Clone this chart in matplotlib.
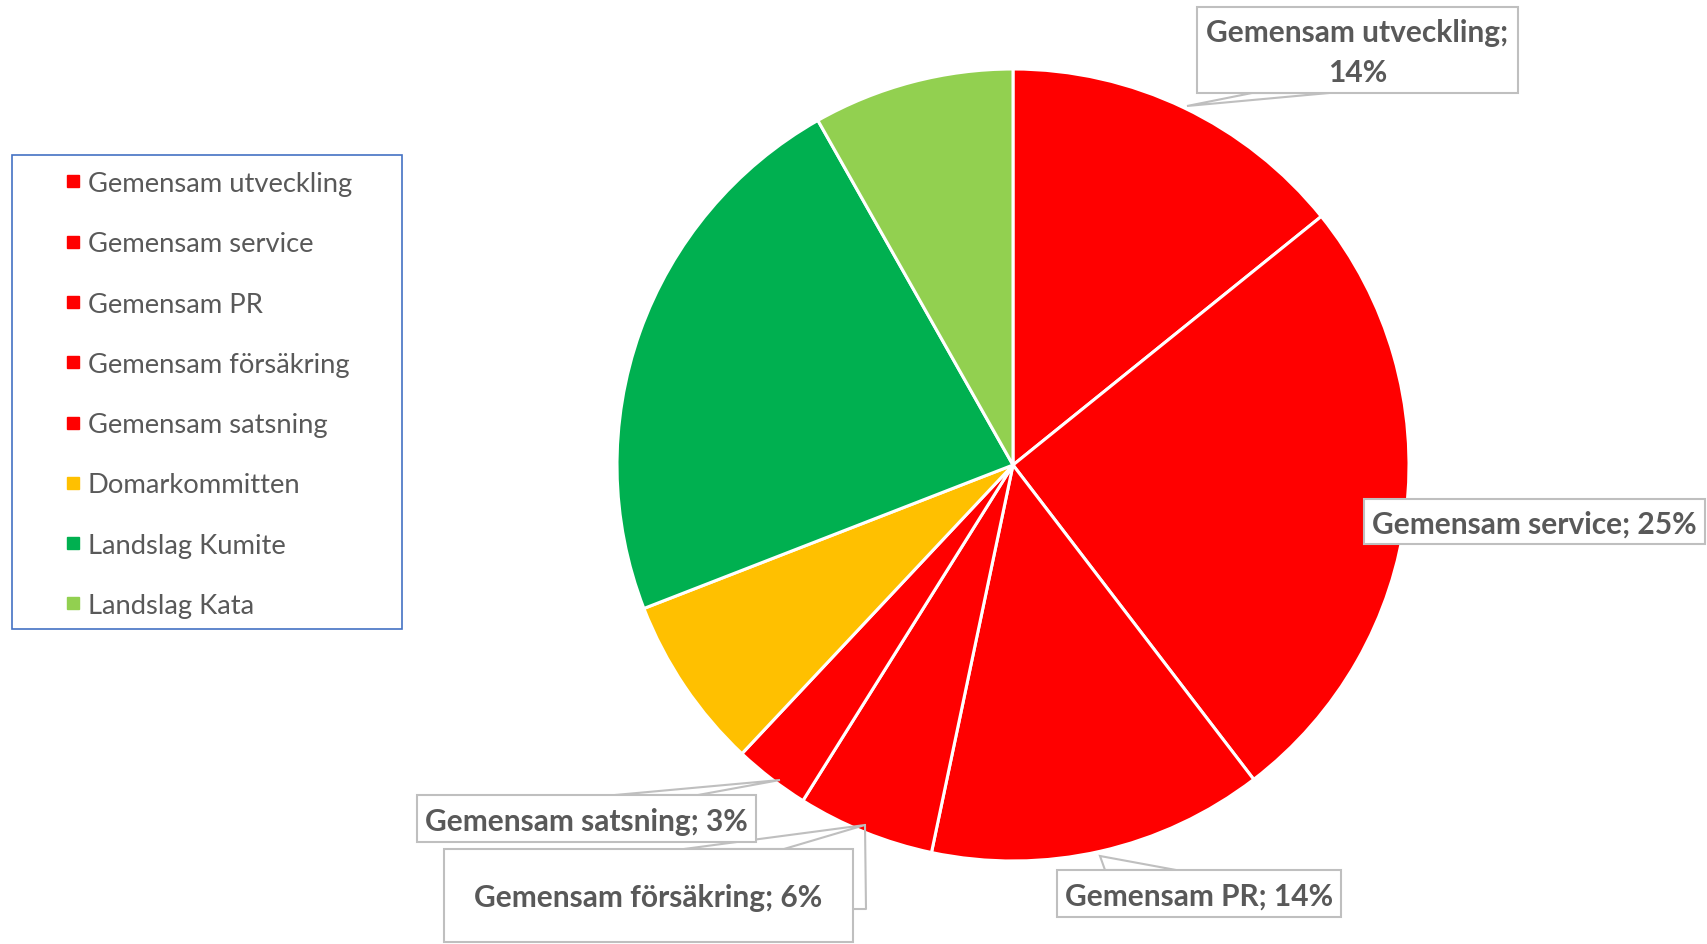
import matplotlib.pyplot as plt
from matplotlib.patches import Rectangle, Polygon
from matplotlib.lines import Line2D

plt.rcParams['font.family'] = ['Lato', 'DejaVu Sans']

# Data (shares, in percent)
categories = ['Gemensam utveckling', 'Gemensam service', 'Gemensam PR',
              'Gemensam försäkring', 'Gemensam satsning', 'Domarkommitten',
              'Landslag Kumite', 'Landslag Kata']
shares = [14.2, 25.4, 13.7, 5.6, 3.1, 7.1, 22.7, 8.2]
colors = ['#FF0000', '#FF0000', '#FF0000', '#FF0000', '#FF0000',
          '#FFC000', '#00B050', '#92D050']
labelled = ['Gemensam utveckling;\n14%', 'Gemensam service; 25%', 'Gemensam PR; 14%',
            'Gemensam försäkring; 6%', 'Gemensam satsning; 3%']

TEXT = '#595959'
EDGE = '#BFBFBF'

fig = plt.figure(figsize=(17.08, 9.45), dpi=100)
ax = fig.add_axes([0, 0, 1, 1])
ax.axis('off')

# pie in pixel space (y axis inverted, so counterclock=True runs clockwise on screen)
ax.pie(shares, colors=colors, center=(1013, 466), radius=396,
       startangle=-90, counterclock=True,
       wedgeprops=dict(edgecolor='white', linewidth=2.2))
ax.set_xlim(0, 1708)
ax.set_ylim(945, 0)

# callout boxes: (box x0, y0, x1, y1), wedge base (xa, xb, y), tip
callouts = [
    ((1197, 8, 1518, 94), (1252, 1329, 94), (1187, 107)),
    ((1364, 500, 1705, 545), None, None),
    ((1057, 871, 1341, 918), (1105, 1176, 871), (1100, 857)),
    ((444, 850, 853, 943), (684, 784, 850), (865, 826)),
    ((417, 796, 756, 843), (615, 698, 796), (780, 781)),
]

for (box, base, tip), txt in zip(callouts, labelled):
    x0, y0, x1, y1 = box
    if base is not None:
        ax.add_patch(Polygon([(base[0], base[2]), tip, (base[1], base[2])],
                             closed=True, facecolor='white', edgecolor=EDGE,
                             linewidth=1.5, zorder=3))
    ax.add_patch(Rectangle((x0, y0), x1 - x0, y1 - y0, facecolor='white',
                           edgecolor=EDGE, linewidth=1.5, zorder=4))
    ax.text((x0 + x1) / 2, (y0 + y1) / 2 + 2, txt, ha='center', va='center',
            fontsize=21.5, fontweight='bold', color=TEXT, zorder=5,
            linespacing=1.5)

# stray outline on the försäkring callout
ax.add_line(Line2D([865, 866, 853], [826, 910, 910], color=EDGE, linewidth=1.5, zorder=3))

# legend
ax.add_patch(Rectangle((12, 156), 390, 474, facecolor='white',
                       edgecolor='#4472C4', linewidth=1.2, zorder=2))
handles = [Line2D([], [], marker='s', linestyle='', markersize=9,
                  markerfacecolor=c, markeredgecolor=c) for c in colors]
leg = ax.legend(handles, categories, loc='upper left', frameon=False,
                bbox_to_anchor=(63 / 1708, 1 - 172 / 945), fontsize=19.7,
                labelspacing=1.29, handlelength=0.7, handletextpad=0.2,
                borderpad=0, borderaxespad=0)
for t in leg.get_texts():
    t.set_color(TEXT)
leg.set_zorder(6)

fig.savefig('out.png', dpi=100)
